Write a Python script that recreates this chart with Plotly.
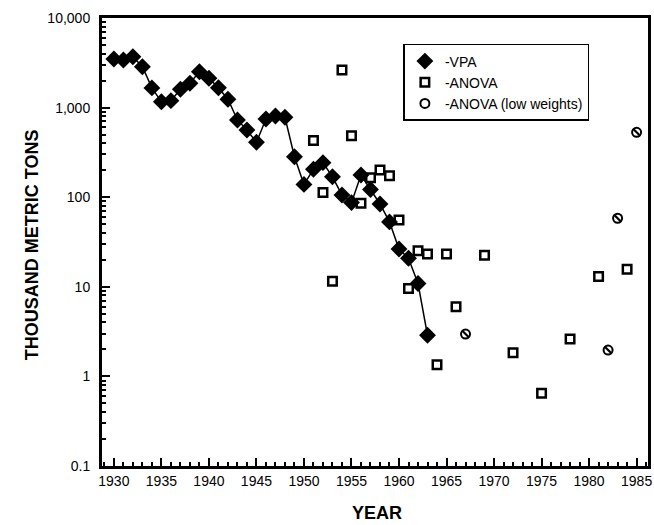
import plotly.graph_objects as go

# VPA estimates (thousand metric tons)
vpa_years = list(range(1930, 1964))
vpa_values = [3490, 3400, 3700, 2860, 1660, 1160, 1195, 1600, 1870, 2515,
              2125, 1667, 1240, 728, 562, 410, 746, 806, 780, 283,
              139, 205, 243, 169, 106, 87, 177, 122, 84, 53,
              26.4, 20.8, 10.9, 2.88]

# ANOVA estimates
anova_years = [1951, 1952, 1953, 1954, 1955, 1956, 1957, 1958, 1959, 1960,
               1961, 1962, 1963, 1964, 1965, 1966, 1969, 1972, 1975, 1978,
               1981, 1984]
anova_values = [428, 113, 11.5, 2630, 485, 85.5, 165, 201, 173, 55.7,
                9.6, 25.3, 23.2, 1.35, 23.2, 6.0, 22.5, 1.84, 0.65, 2.61,
                13.0, 15.7]

# ANOVA (low weights)
low_years = [1967, 1982, 1983, 1985]
low_values = [2.97, 1.97, 58.2, 530]

y_tickvals = [0.1, 1, 10, 100, 1000, 10000]
y_ticktext = ["0.1", "1", "10", "100", "1,000", "10,000"]

FONT = "Liberation Sans, Arial, sans-serif"

fig = go.Figure()
fig.add_trace(go.Scatter(
    x=vpa_years, y=vpa_values, mode="lines", showlegend=False,
    line=dict(color="black", width=1.5), hoverinfo="skip",
))
fig.add_trace(go.Scatter(
    x=vpa_years, y=vpa_values, mode="markers", name="-VPA",
    marker=dict(symbol="diamond", size=13, color="black"),
))
fig.add_trace(go.Scatter(
    x=anova_years, y=anova_values, mode="markers", name="-ANOVA",
    marker=dict(symbol="square-open", size=8.5, color="black",
                line=dict(color="black", width=2.5)),
))
fig.add_trace(go.Scatter(
    x=low_years, y=low_values, mode="markers", name="-ANOVA (low weights)",
    marker=dict(symbol="circle-open", size=9, color="black",
                line=dict(color="black", width=2)),
    legendgroup="low",
))
fig.add_trace(go.Scatter(
    x=low_years, y=low_values, mode="markers", showlegend=False,
    marker=dict(symbol="line-nw", size=7, color="black",
                line=dict(color="black", width=2.2)),
    legendgroup="low", hoverinfo="skip",
))

fig.update_layout(
    width=654, height=525,
    margin=dict(l=102, r=6, t=18, b=59),
    paper_bgcolor="white", plot_bgcolor="white",
    font=dict(family=FONT, size=14, color="black"),
    legend=dict(x=0.552, y=0.942, xanchor="left", yanchor="top",
                bordercolor="black", borderwidth=1.5, bgcolor="white",
                font=dict(family=FONT, size=14, color="black"),
                itemwidth=30, tracegroupgap=0),
    showlegend=True,
    annotations=[
        dict(text="<b>YEAR</b>", xref="paper", yref="paper", x=0.504, y=-0.105,
             xanchor="center", yanchor="middle", showarrow=False,
             font=dict(family=FONT, size=18, color="black")),
        dict(text="<b>THOUSAND METRIC TONS</b>", xref="paper", yref="paper",
             x=-0.128, y=0.493, xanchor="center", yanchor="middle",
             textangle=-90, showarrow=False,
             font=dict(family=FONT, size=18, color="black")),
    ],
)
fig.update_xaxes(
    range=[1928.75, 1986.2], tick0=1930, dtick=5, automargin=False,
    ticks="inside", ticklen=8, tickwidth=2, tickcolor="black",
    showline=True, linewidth=3, linecolor="black", mirror=True,
    showgrid=False, zeroline=False,
    minor=dict(ticks="inside", ticklen=4, tickwidth=1.5, tickcolor="black", dtick=1, showgrid=False),
    tickfont=dict(family=FONT, size=14),
)
fig.update_yaxes(
    type="log", range=[-1, 4], automargin=False,
    tickvals=y_tickvals, ticktext=y_ticktext,
    ticks="inside", ticklen=8, tickwidth=2, tickcolor="black",
    showline=True, linewidth=3, linecolor="black", mirror=True,
    showgrid=False, zeroline=False,
    minor=dict(ticks="inside", ticklen=4, tickwidth=1.5, tickcolor="black", dtick="D1", showgrid=False),
    tickfont=dict(family=FONT, size=14),
    ticklabelstandoff=6,
)

# remove the browser's default 8px body margin so the figure fills the window exactly
fig.write_html("out.html",
               config={"displayModeBar": False},
               post_script="document.body.style.margin='0';document.body.style.overflow='hidden';")
